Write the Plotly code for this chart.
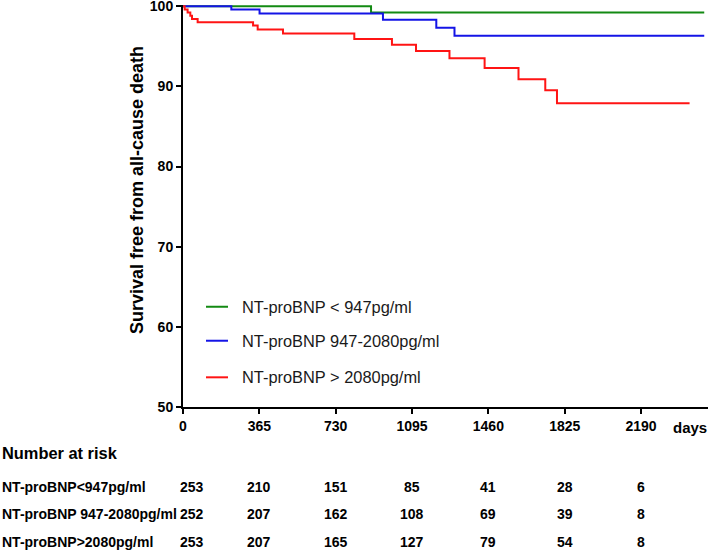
import plotly.graph_objects as go

# ---- data ----
series_names = ["NT-proBNP < 947pg/ml", "NT-proBNP 947-2080pg/ml", "NT-proBNP > 2080pg/ml"]
series_colors = ["#138a13", "#1414e6", "#ff1414"]

green_days = [0, 899, 2492]
green_surv = [100, 99.2, 99.2]

blue_days = [0, 231, 366, 956, 1211, 1298, 2492]
blue_surv = [100, 99.6, 99.1, 98.3, 97.3, 96.3, 96.3]

red_days = [0, 8, 22, 35, 43, 70, 335, 357, 478, 819, 999, 1114, 1274, 1442, 1604, 1732, 1788, 2422]
red_surv = [100, 99.6, 99.2, 98.8, 98.4, 98.0, 97.6, 97.1, 96.6, 95.9, 95.2, 94.4, 93.5, 92.3, 90.9, 89.5, 87.9, 87.9]

x_ticks = [0, 365, 730, 1095, 1460, 1825, 2190]
y_ticks = [50, 60, 70, 80, 90, 100]

risk_labels = ["NT-proBNP<947pg/ml", "NT-proBNP 947-2080pg/ml", "NT-proBNP>2080pg/ml"]
risk_low = [253, 210, 151, 85, 41, 28, 6]
risk_mid = [252, 207, 162, 108, 69, 39, 8]
risk_high = [253, 207, 165, 127, 79, 54, 8]

# ---- layout geometry (pixels) ----
W, H = 709, 550
L, R, T, B = 183, 1, 4.8, 143
PW, PH = W - L - R, H - T - B
FONT = "Liberation Sans, Arial, sans-serif"

def px_x(p):
    return (p - L) / PW

def px_y(p):
    return (H - B - p) / PH

fig = go.Figure()
for d, s, name, col in zip([green_days, blue_days, red_days],
                           [green_surv, blue_surv, red_surv],
                           series_names, series_colors):
    fig.add_trace(go.Scatter(x=d, y=s, mode="lines", line_shape="hv",
                             line=dict(color=col, width=2), name=name,
                             showlegend=False))

annotations = []
shapes = []

# manual legend
legend_rows_px = [306.7, 340.7, 377.3]
for name, col, yp in zip(series_names, series_colors, legend_rows_px):
    shapes.append(dict(type="line", xref="paper", yref="paper",
                       x0=px_x(206), x1=px_x(228), y0=px_y(yp), y1=px_y(yp),
                       line=dict(color=col, width=2)))
    annotations.append(dict(text=name, xref="paper", yref="paper",
                            x=px_x(240), y=px_y(yp), xanchor="left", yanchor="middle",
                            showarrow=False, font=dict(family=FONT, size=16.4, color="#1a1a1a")))

# y axis title
annotations.append(dict(text="Survival free from all-cause death", xref="paper", yref="paper",
                        x=px_x(137), y=px_y(190), xanchor="center", yanchor="middle",
                        textangle=-90, showarrow=False,
                        font=dict(family=FONT, size=18, color="black", weight="bold")))
# days label
annotations.append(dict(text="days", xref="paper", yref="paper",
                        x=px_x(671), y=px_y(428), xanchor="left", yanchor="middle",
                        showarrow=False,
                        font=dict(family=FONT, size=15, color="black", weight="bold")))

# number at risk table
annotations.append(dict(text="Number at risk", xref="paper", yref="paper",
                        x=px_x(0), y=px_y(453), xanchor="left", yanchor="middle",
                        showarrow=False,
                        font=dict(family=FONT, size=16.4, color="black", weight="bold")))
row_px = [486.7, 514.5, 542]
for lab, vals, yp in zip(risk_labels, [risk_low, risk_mid, risk_high], row_px):
    annotations.append(dict(text=lab, xref="paper", yref="paper",
                            x=px_x(0), y=px_y(yp), xanchor="left", yanchor="middle",
                            showarrow=False,
                            font=dict(family=FONT, size=14, color="black", weight="bold")))
    for i, (d, v) in enumerate(zip(x_ticks, vals)):
        annotations.append(dict(text=str(v), xref="x", yref="paper",
                                x=d, y=px_y(yp), xanchor="center", yanchor="middle",
                                xshift=9 if i == 0 else 0,
                                showarrow=False,
                                font=dict(family=FONT, size=14, color="black", weight="bold")))

fig.update_layout(
    width=W, height=H,
    margin=dict(l=L, r=R, t=T, b=B, autoexpand=False),
    paper_bgcolor="white", plot_bgcolor="white",
    font=dict(family=FONT, color="black"),
    annotations=annotations, shapes=shapes,
    showlegend=False,
)
fig.update_xaxes(range=[0, 2510], tickvals=x_ticks, ticktext=[str(t) for t in x_ticks],
                 showgrid=False, zeroline=False, showline=True, linecolor="black", linewidth=2,
                 ticks="outside", ticklen=5, tickwidth=2, tickcolor="black",
                 ticklabeloverflow="allow",
                 tickfont=dict(family=FONT, size=14, color="black", weight="bold"))
fig.update_yaxes(range=[50, 100.15], tickvals=y_ticks, ticktext=[str(t) for t in y_ticks],
                 showgrid=False, zeroline=False, showline=True, linecolor="black", linewidth=2,
                 ticks="outside", ticklen=5, tickwidth=2, tickcolor="black",
                 ticklabeloverflow="allow",
                 tickfont=dict(family=FONT, size=14, color="black", weight="bold"))

fig.write_html("out.html", config={"displayModeBar": False},
               post_script="document.body.style.margin='0';document.body.style.padding='0';"
                           "document.documentElement.style.overflow='hidden';")
